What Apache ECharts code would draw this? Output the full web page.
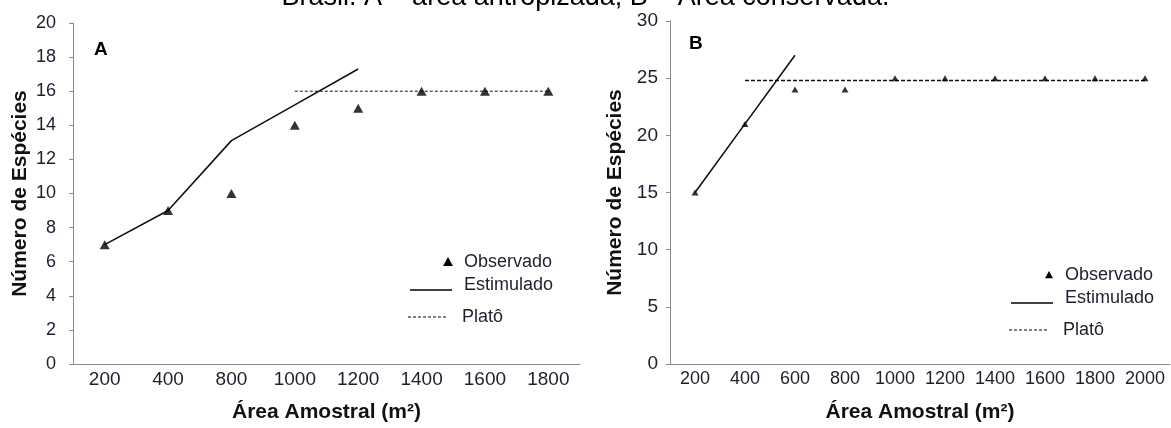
<!DOCTYPE html>
<html>
<head>
<meta charset="utf-8">
<script src="https://cdn.jsdelivr.net/npm/echarts@6/dist/echarts.min.js"></script>
<style>
  html, body { margin: 0; padding: 0; background: #fff; }
  #chart { width: 1171px; height: 428px; }
</style>
</head>
<body>
<div id="chart"></div>
<script>
  // painel A - área antropizada
  const areaA = ['200', '400', '800', '1000', '1200', '1400', '1600', '1800']
  const observadoA = [7, 9, 10, 14, 15, 16, 16, 16]
  const estimadoA = [7, 9, 13.1, 15.2, 17.3, null, null, null]
  const platoA = [null, null, null, 16, 16, 16, 16, 16]

  // painel B - área conservada
  const areaB = ['200', '400', '600', '800', '1000', '1200', '1400', '1600', '1800', '2000']
  const observadoB = [15, 21, 24, 24, 25, 25, 25, 25, 25, 25]
  const estimadoB = [15, 21, 27, null, null, null, null, null, null, null]
  const platoB = [null, 24.8, 24.8, 24.8, 24.8, 24.8, 24.8, 24.8, 24.8, 24.8]

  const font = 'Liberation Sans, Arial, sans-serif'
  const txt = '#1e1e2e'
  const axisGray = '#8a8a8a'

  const myChart = echarts.init(document.getElementById('chart'))

  function xAx(idx, data, labelSize) {
    return {
      type: 'category',
      gridIndex: idx,
      data: data,
      boundaryGap: true,
      name: 'Área Amostral (m²)',
      nameLocation: 'middle',
      nameGap: 38,
      nameTextStyle: { fontFamily: font, fontWeight: 'bold', fontSize: 21, color: '#111' },
      axisLine: { lineStyle: { color: axisGray, width: 1 } },
      axisTick: { length: 4, lineStyle: { color: axisGray } },
      axisLabel: { interval: 0, margin: 6, fontFamily: font, fontSize: labelSize, color: txt },
      splitLine: { show: false }
    }
  }

  function yAx(idx, max, step, gap, margin, labelSize) {
    return {
      type: 'value',
      gridIndex: idx,
      min: 0,
      max: max,
      interval: step,
      name: 'Número de Espécies',
      nameLocation: 'middle',
      nameRotate: 90,
      nameGap: gap,
      nameTextStyle: { fontFamily: font, fontWeight: 'bold', fontSize: 21, color: '#111' },
      axisLine: { show: true, lineStyle: { color: axisGray, width: 1 } },
      axisTick: { show: true, length: 4, lineStyle: { color: axisGray } },
      axisLabel: { margin: margin, fontFamily: font, fontSize: labelSize, color: txt },
      splitLine: { show: false }
    }
  }

  // legenda desenhada à mão (layout irregular do original)
  function legenda(x, y, tri) {
    const t = { fontFamily: font, fontSize: 18, fill: txt, verticalAlign: 'middle' }
    return [
      { type: 'polygon', shape: { points: [[x, y - tri], [x - tri, y + tri * 0.8], [x + tri, y + tri * 0.8]] }, style: { fill: '#000' } },
      { type: 'text', x: x + 16, y: y, style: Object.assign({ text: 'Observado' }, t) },
      { type: 'line', shape: { x1: x - 38, y1: y + 28, x2: x + 4, y2: y + 28 }, style: { stroke: '#000', lineWidth: 1.5 } },
      { type: 'text', x: x + 16, y: y + 23, style: Object.assign({ text: 'Estimulado' }, t) },
      { type: 'line', shape: { x1: x - 40, y1: y + 55, x2: x, y2: y + 55 }, style: { stroke: '#000', lineWidth: 1, lineDash: [3, 2] } },
      { type: 'text', x: x + 14, y: y + 55, style: Object.assign({ text: 'Platô' }, t) }
    ]
  }

  var option = {
    backgroundColor: '#fff',
    animation: false,
    title: [
      {
        text: 'Brasil. A – área antropizada; B – Área conservada.',
        left: 'center',
        top: -21,
        textStyle: { fontFamily: font, fontWeight: 'normal', fontSize: 27, color: '#000' }
      },
      { text: 'A', left: 89, top: 35, textStyle: { fontFamily: font, fontWeight: 'bold', fontSize: 19, color: '#000' } },
      { text: 'B', left: 684, top: 29, textStyle: { fontFamily: font, fontWeight: 'bold', fontSize: 19, color: '#000' } }
    ],
    grid: [
      { left: 73, top: 23, width: 507, height: 345 },
      { left: 670, top: 21, width: 500, height: 348 }
    ],
    xAxis: [xAx(0, areaA, 19), xAx(1, areaB, 18)],
    yAxis: [yAx(0, 20, 2, 42, 17, 18), yAx(1, 30, 5, 44, 12, 19)],
    graphic: legenda(448, 262, 5).concat(legenda(1049, 275, 4)),
    series: [
      {
        name: 'Estimulado A', type: 'line', xAxisIndex: 0, yAxisIndex: 0,
        data: estimadoA, showSymbol: false, connectNulls: false,
        lineStyle: { color: '#111', width: 1.6 }, z: 2
      },
      {
        name: 'Platô A', type: 'line', xAxisIndex: 0, yAxisIndex: 0,
        data: platoA, showSymbol: false,
        lineStyle: { color: '#111', width: 1, type: [3, 2] }, z: 2
      },
      {
        name: 'Observado A', type: 'scatter', xAxisIndex: 0, yAxisIndex: 0,
        data: observadoA, symbol: 'triangle', symbolSize: [10, 9],
        itemStyle: { color: '#000' }, z: 3
      },
      {
        name: 'Estimulado B', type: 'line', xAxisIndex: 1, yAxisIndex: 1,
        data: estimadoB, showSymbol: false,
        lineStyle: { color: '#111', width: 1.6 }, z: 2
      },
      {
        name: 'Platô B', type: 'line', xAxisIndex: 1, yAxisIndex: 1,
        data: platoB, showSymbol: false,
        lineStyle: { color: '#111', width: 1.5, type: [4, 2] }, z: 2
      },
      {
        name: 'Observado B', type: 'scatter', xAxisIndex: 1, yAxisIndex: 1,
        data: observadoB, symbol: 'triangle', symbolSize: [7, 6],
        itemStyle: { color: '#000' }, z: 3
      }
    ]
  }
  myChart.setOption(option)
</script>
</body>
</html>
